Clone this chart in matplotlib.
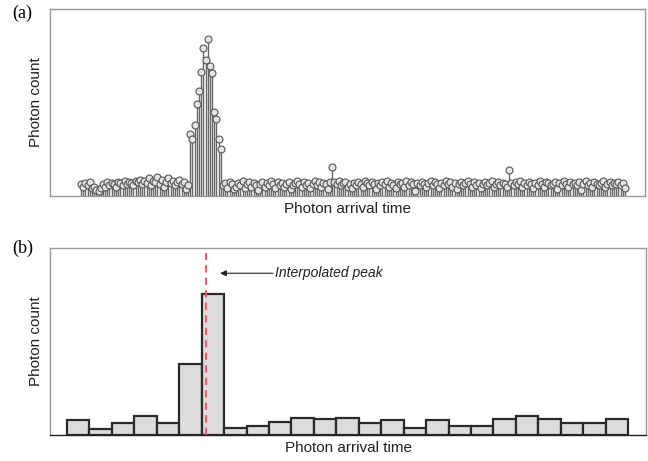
import matplotlib
matplotlib.use("Agg")
import matplotlib.pyplot as plt
import numpy as np

plt.rcParams['font.family'] = ['Liberation Sans', 'DejaVu Sans']

# (a) photon counts per time sample: background before the pulse, pulse, background after
counts_before = [10, 8, 11, 9, 12, 7, 8, 5, 4, 7,
                 10, 8, 12, 9, 11, 10, 8, 12, 11, 9,
                 13, 10, 12, 11, 9, 13, 12, 14, 10, 13,
                 11, 15, 9, 13, 12, 16, 10, 14, 8, 12,
                 15, 11, 13, 9, 12, 14, 10, 12, 6, 9]
counts_pulse = [53, 49, 61, 79, 90, 106, 127, 116, 134, 111, 105, 72, 66, 49, 40]
counts_after = [9, 11, 7, 12, 10, 6, 8, 11, 9, 13,
                7, 10, 12, 8, 11, 9, 5, 10, 12, 8,
                11, 9, 13, 10, 7, 12, 9, 11, 8, 10,
                12, 6, 9, 11, 13, 10, 8, 12, 9, 11,
                7, 10, 13, 9, 12, 8, 11, 10, 6, 12,
                25, 12, 10, 13, 9, 11, 12, 8, 10, 7,
                11, 9, 12, 10, 8, 13, 11, 9, 12, 10,
                6, 11, 9, 12, 10, 13, 8, 11, 9, 7,
                12, 10, 11, 8, 13, 9, 12, 10, 4, 11,
                9, 12, 10, 8, 11, 13, 9, 12, 10, 7,
                11, 9, 13, 10, 12, 8, 11, 6, 10, 12,
                9, 11, 13, 10, 8, 12, 9, 11, 7, 10,
                12, 9, 11, 13, 8, 10, 12, 9, 11, 10,
                8, 22, 11, 9, 12, 10, 13, 8, 11, 9,
                12, 10, 7, 11, 9, 13, 10, 8, 12, 11,
                9, 10, 12, 6, 11, 9, 13, 10, 8, 12,
                10, 11, 9, 12, 5, 10, 13, 9, 11, 8,
                12, 10, 9, 11, 13, 8, 10, 12, 9, 11,
                10, 12, 9, 11, 7]

# (b) binned histogram
bin_counts = [16, 6, 13, 20, 13, 76, 151, 8, 10, 14, 18, 17, 18,
              13, 16, 8, 16, 10, 10, 17, 20, 17, 13, 13, 17]
peak_position = 5.70
peak_label = "Interpolated peak"

fig = plt.figure(figsize=(6.48, 4.61), dpi=100)

# ---- panel (a) ----
ax1 = fig.add_axes([0.0772, 0.5748, 0.9182, 0.4057])
samples = np.array(counts_before + counts_pulse + counts_after)
t = np.arange(len(samples))
markerline, stemlines, baseline = ax1.stem(t, samples, basefmt=' ')
plt.setp(stemlines, color='#666666', linewidth=1.0)
plt.setp(markerline, marker='o', markersize=5, markerfacecolor='#e4e4e4',
         markeredgecolor='#555555', markeredgewidth=0.8, linestyle='none')
ax1.set_xlim(-14.2, 258.2)
ax1.set_ylim(0, 160)
ax1.set_xticks([])
ax1.set_yticks([])
for s in ax1.spines.values():
    s.set_color('#999999')
    s.set_linewidth(1.0)
ax1.set_xlabel("Photon arrival time", fontsize=11, color='#222222', labelpad=4)
ax1.set_ylabel("Photon count", fontsize=11, color='#222222', labelpad=5)

# ---- panel (b) ----
ax2 = fig.add_axes([0.0772, 0.0564, 0.9198, 0.4056])
x = np.arange(len(bin_counts))
ax2.bar(x, bin_counts, width=1.0, color='#dcdcdc', edgecolor='#2a2a2a', linewidth=1.6)
ax2.set_xlim(-1.258, 25.3)
ax2.set_ylim(0, 200)
ax2.axvline(peak_position, ymin=0, ymax=0.98, color='#f06060', linewidth=1.5,
            linestyle=(0, (3.5, 2.5)))
ax2.annotate('', xy=(6.32, 173), xytext=(8.68, 173),
             arrowprops=dict(arrowstyle='-|>', color='#222222', lw=0.8,
                             mutation_scale=9, shrinkA=0, shrinkB=0))
ax2.text(8.77, 173, peak_label, fontsize=10, style='italic', color='#222222',
         va='center', ha='left')
ax2.set_xticks([])
ax2.set_yticks([])
for s in ax2.spines.values():
    s.set_color('#999999')
    s.set_linewidth(1.0)
ax2.spines['bottom'].set_color('#222222')
ax2.set_xlabel("Photon arrival time", fontsize=11, color='#222222', labelpad=4)
ax2.set_ylabel("Photon count", fontsize=11, color='#222222', labelpad=5)

fig.text(12 / 648, 1 - 13 / 461, "(a)", family='Liberation Serif', fontsize=13,
         va='center', ha='left')
fig.text(12 / 648, 1 - 248 / 461, "(b)", family='Liberation Serif', fontsize=13,
         va='center', ha='left')

fig.savefig("out.png", dpi=100)
